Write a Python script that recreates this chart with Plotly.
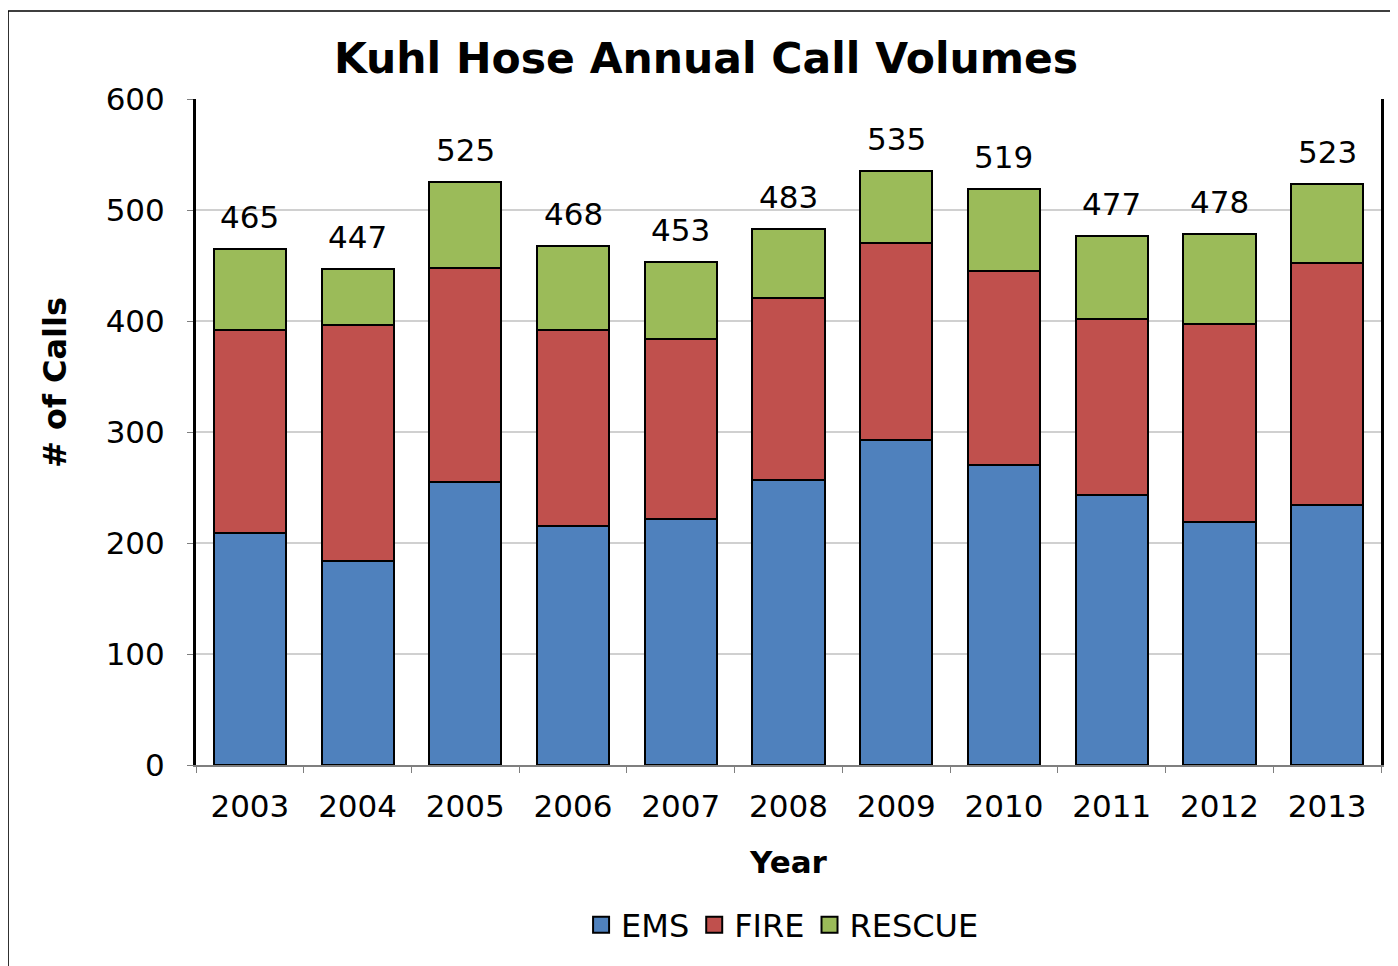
import plotly.graph_objects as go

years = ["2003", "2004", "2005", "2006", "2007", "2008", "2009", "2010", "2011", "2012", "2013"]
ems = [209, 184, 255, 215, 222, 257, 293, 270, 243, 219, 234]
fire = [183, 212, 193, 177, 162, 164, 177, 175, 159, 178, 218]
rescue = [73, 51, 77, 76, 69, 62, 65, 74, 75, 81, 71]
totals = [465, 447, 525, 468, 453, 483, 535, 519, 477, 478, 523]

series = [("EMS", ems, "#4F81BD"), ("FIRE", fire, "#C0504D"), ("RESCUE", rescue, "#9BBB59")]

FONT = "DejaVu Sans"
fig = go.Figure()
for name, vals, col in series:
    fig.add_trace(go.Bar(
        x=years, y=vals, name=name, showlegend=False,
        marker=dict(color=col, line=dict(color="black", width=2)),
    ))
# legend entries with larger square swatches
for name, vals, col in series:
    fig.add_trace(go.Scatter(
        x=[None], y=[None], mode="markers", name=name,
        marker=dict(symbol="square", size=17, color=col, line=dict(color="black", width=2)),
    ))

for i, tot in enumerate(totals):
    fig.add_annotation(x=i, y=tot, text=str(tot), showarrow=False,
                       yanchor="bottom", yshift=12,
                       font=dict(family=FONT, size=31, color="black"))

fig.add_annotation(text="<b># of Calls</b>", xref="paper", yref="paper",
                   x=-0.119, y=0.575, textangle=-90, showarrow=False,
                   xanchor="center", yanchor="middle",
                   font=dict(family=FONT, size=32, color="black"))

fig.update_layout(
    barmode="stack",
    bargap=0.33,
    width=1398, height=966,
    margin=dict(l=188, r=25, t=91, b=209, autoexpand=False),
    paper_bgcolor="white", plot_bgcolor="white",
    font=dict(family=FONT, size=31, color="black"),
    title=dict(text="<b>Kuhl Hose Annual Call Volumes</b>", x=0.4993, xanchor="center",
               y=0.948, yanchor="middle", font=dict(family=FONT, size=42.5, color="black")),
    legend=dict(orientation="h", x=0.495, xanchor="center", y=-0.24, yanchor="middle",
                font=dict(family=FONT, size=32), itemwidth=30, tracegroupgap=0,
                traceorder="normal"),
    xaxis=dict(
        type="category", range=[-0.5, len(years) - 0.5],
        showgrid=False, showline=True, linecolor="#7F7F7F", linewidth=2,
        ticks="outside", tickson="boundaries", ticklen=6, tickcolor="#7F7F7F",
        tickfont=dict(family=FONT, size=31), ticklabelstandoff=13,
        title=dict(text="<b>Year</b>", font=dict(family=FONT, size=31), standoff=28),
        automargin=False,
    ),
    yaxis=dict(
        range=[0, 600], dtick=100, showgrid=True, gridcolor="#D0D0D0", gridwidth=1.5,
        showline=True, linecolor="black", linewidth=3, mirror=True,
        ticks="outside", ticklen=6, tickcolor="#7F7F7F",
        tickfont=dict(family=FONT, size=31), ticklabelstandoff=16, zeroline=False,
        automargin=False,
    ),
)

fig.add_shape(type="rect", xref="paper", yref="paper",
              x0=-0.1586, x1=1.05, y0=-0.35, y1=1.1321,
              line=dict(color="black", width=1.5), fillcolor="rgba(0,0,0,0)", layer="below")

fig.write_html("out.html")
